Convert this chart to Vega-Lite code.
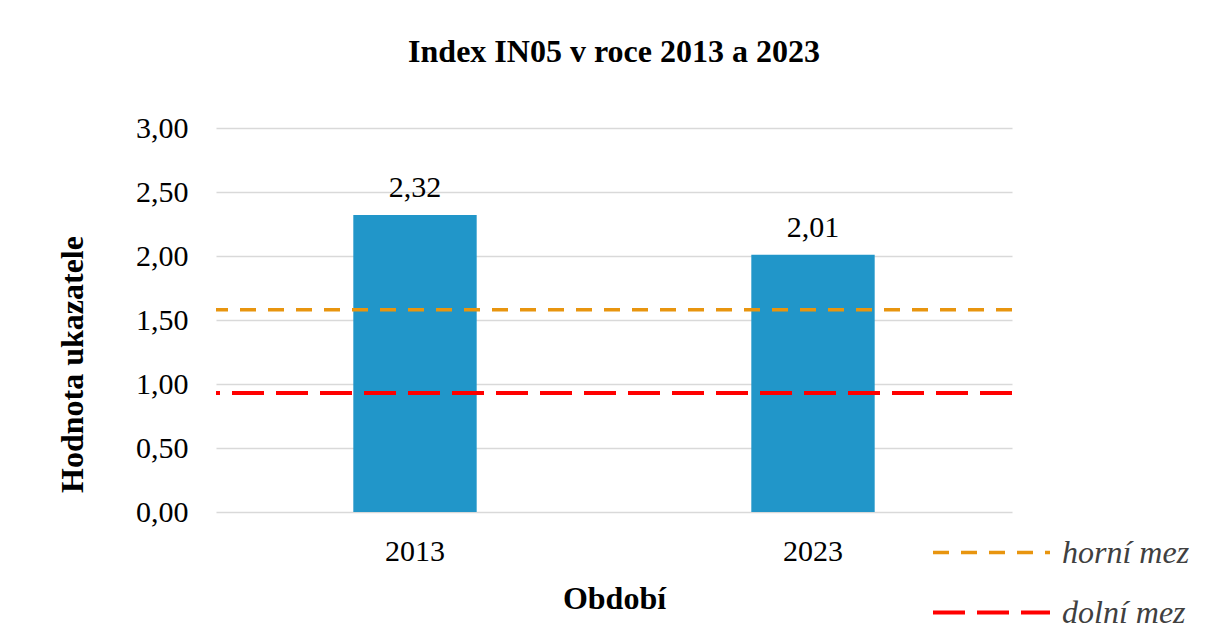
{
  "$schema": "https://vega.github.io/schema/vega-lite/v6.json",
  "width": 796,
  "height": 384,
  "autosize": {"type": "none"},
  "padding": {"left": 216, "top": 128, "right": 198, "bottom": 131},
  "background": "white",
  "title": {
    "text": "Index IN05 v roce 2013 a 2023",
    "font": "Liberation Serif",
    "fontSize": 32,
    "fontWeight": "bold",
    "color": "#000000",
    "anchor": "middle",
    "baseline": "alphabetic",
    "offset": 19
  },
  "config": {
    "locale": {"number": {"decimal": ",", "thousands": " ", "grouping": [3], "currency": ["", " Kč"]}},
    "view": {"stroke": null},
    "axis": {
      "labelFont": "Liberation Serif",
      "labelFontSize": 30,
      "labelColor": "#000000",
      "titleFont": "Liberation Serif",
      "titleFontSize": 32,
      "titleFontWeight": "bold",
      "titleColor": "#000000",
      "domain": false,
      "ticks": false,
      "gridColor": "#D9D9D9",
      "gridWidth": 1.3
    },
    "legend": {
      "orient": "none",
      "symbolType": "stroke",
      "symbolSize": 13689,
      "labelFont": "Liberation Serif",
      "labelFontSize": 32,
      "labelFontStyle": "italic",
      "labelColor": "#404040",
      "labelOffset": 10,
      "padding": 0
    }
  },
  "datasets": {
    "bars": [
      {"Období": "2013", "Hodnota": 2.32},
      {"Období": "2023", "Hodnota": 2.01}
    ],
    "upper": [
      {"mez": "horní mez", "hodnota": 1.58}
    ],
    "lower": [
      {"mez": "dolní mez", "hodnota": 0.93}
    ]
  },
  "resolve": {
    "scale": {"color": "independent", "strokeDash": "independent"},
    "legend": {"color": "independent", "strokeDash": "independent"}
  },
  "layer": [
    {
      "data": {"name": "bars"},
      "mark": {"type": "bar", "color": "#2196C9"},
      "encoding": {
        "x": {
          "field": "Období",
          "type": "nominal",
          "scale": {"paddingInner": 0.69, "paddingOuter": 0.345},
          "axis": {
            "title": "Období",
            "labelAngle": 0,
            "labelPadding": 24,
            "grid": false,
            "titleY": 96,
            "titleBaseline": "alphabetic"
          }
        },
        "y": {
          "field": "Hodnota",
          "type": "quantitative",
          "scale": {"domain": [0, 3]},
          "axis": {
            "title": "Hodnota ukazatele",
            "values": [0, 0.5, 1, 1.5, 2, 2.5, 3],
            "format": ".2f",
            "labelPadding": 28,
            "titleX": -134,
            "titleY": 236,
            "titleBaseline": "alphabetic",
            "titleAlign": "center"
          }
        }
      }
    },
    {
      "data": {"name": "bars"},
      "mark": {
        "type": "text",
        "font": "Liberation Serif",
        "fontSize": 30,
        "color": "#000000",
        "baseline": "alphabetic",
        "dy": -18
      },
      "encoding": {
        "x": {"field": "Období", "type": "nominal"},
        "y": {"field": "Hodnota", "type": "quantitative"},
        "text": {"field": "Hodnota", "type": "quantitative", "format": ".2f"}
      }
    },
    {
      "data": {"name": "upper"},
      "mark": {"type": "rule", "strokeWidth": 3.3},
      "encoding": {
        "y": {"field": "hodnota", "type": "quantitative"},
        "color": {
          "field": "mez",
          "type": "nominal",
          "title": null,
          "scale": {"range": ["#E8950F"]},
          "legend": {"legendX": 715, "legendY": 364, "symbolSize": 13689, "symbolStrokeWidth": 3.3}
        },
        "strokeDash": {
          "field": "mez",
          "type": "nominal",
          "title": null,
          "scale": {"range": [[16, 12]]},
          "legend": {"legendX": 715, "legendY": 364, "symbolSize": 13689, "symbolStrokeWidth": 3.3}
        }
      }
    },
    {
      "data": {"name": "lower"},
      "mark": {"type": "rule", "strokeWidth": 4},
      "encoding": {
        "y": {"field": "hodnota", "type": "quantitative"},
        "color": {
          "field": "mez",
          "type": "nominal",
          "title": null,
          "scale": {"range": ["#FF0000"]},
          "legend": {"legendX": 715, "legendY": 424, "symbolSize": 13689, "symbolStrokeWidth": 4}
        },
        "strokeDash": {
          "field": "mez",
          "type": "nominal",
          "title": null,
          "scale": {"range": [[32, 12]]},
          "legend": {"legendX": 715, "legendY": 424, "symbolSize": 13689, "symbolStrokeWidth": 4}
        }
      }
    }
  ]
}
